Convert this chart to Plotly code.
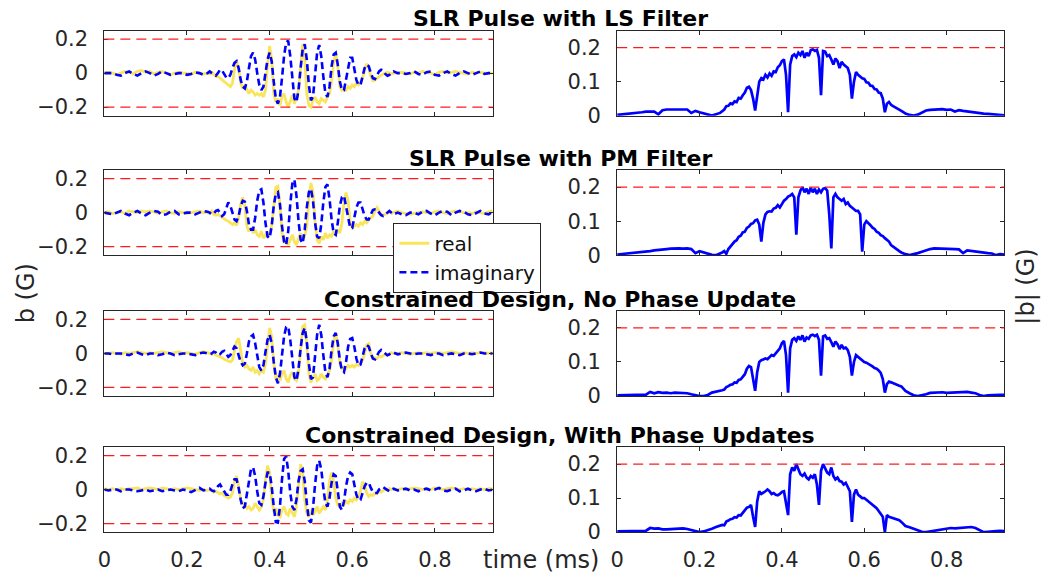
import plotly.graph_objects as go

# ---------------- data ----------------
TIME_MS = [
    0.00, 0.01, 0.02, 0.03, 0.04, 0.05, 0.06, 0.07, 0.08, 0.09,
    0.10, 0.11, 0.12, 0.13, 0.14, 0.15, 0.16, 0.17, 0.18, 0.19,
    0.20, 0.21, 0.22, 0.23, 0.24,
    0.250, 0.255, 0.260, 0.265, 0.270, 0.275, 0.280, 0.285, 0.290, 0.295,
    0.300, 0.305, 0.310, 0.315, 0.320, 0.325, 0.330, 0.335, 0.340, 0.345,
    0.350, 0.355, 0.360, 0.365, 0.370, 0.375, 0.380, 0.385, 0.390, 0.395,
    0.400, 0.405, 0.410, 0.415, 0.420, 0.425, 0.430, 0.435, 0.440, 0.445,
    0.450, 0.455, 0.460, 0.465, 0.470, 0.475, 0.480, 0.485, 0.490, 0.495,
    0.500, 0.505, 0.510, 0.515, 0.520, 0.525, 0.530, 0.535, 0.540, 0.545,
    0.550, 0.555, 0.560, 0.565, 0.570, 0.575, 0.580, 0.585, 0.590, 0.595,
    0.600, 0.605, 0.610, 0.615, 0.620, 0.625, 0.630, 0.635, 0.640, 0.645,
    0.650, 0.655, 0.660, 0.665, 0.670, 0.675, 0.680, 0.685, 0.690, 0.695,
    0.700,
    0.71, 0.72, 0.73, 0.74, 0.75, 0.76, 0.77, 0.78, 0.79, 0.80,
    0.81, 0.82, 0.83, 0.84, 0.85, 0.86, 0.87, 0.88, 0.89, 0.90,
    0.91, 0.92, 0.93, 0.94,
]

# Row 1: SLR Pulse with LS Filter
RE_LS = [
    0.0, 0.005, 0.0, -0.01, 0.0, 0.01, 0.005, -0.005, 0.01, 0.015,
    0.005, 0.01, -0.005, 0.005, 0.01, 0.0, -0.01, 0.0, 0.005, 0.0,
    0.0, -0.005, 0.005, 0.0, -0.005,
    0.0, -0.005, 0.005, -0.01, -0.02, -0.02, -0.03, -0.04, -0.05, -0.06,
    -0.07, -0.08, -0.06, 0.02, 0.07, 0.03, -0.06, -0.09, -0.07, -0.1,
    -0.12, -0.1, -0.11, -0.13, -0.12, -0.13, -0.12, -0.14, -0.1, 0.05,
    0.16, 0.08, -0.12, -0.17, -0.15, -0.19, -0.14, -0.12, -0.17, -0.2,
    -0.16, -0.13, -0.18, -0.15, -0.1, 0.05, 0.17, 0.08, -0.12, -0.19,
    -0.2, -0.16, -0.14, -0.17, -0.18, -0.15, -0.16, -0.17, -0.14, -0.12,
    -0.05, 0.06, 0.12, 0.04, -0.08, -0.1, -0.09, -0.1, -0.08, -0.09,
    -0.07, -0.08, -0.06, -0.07, -0.05, -0.03, 0.02, 0.055, 0.03, -0.02,
    -0.045, -0.04, -0.03, -0.02, -0.01, -0.005, 0.0, 0.005, 0.0, -0.005,
    0.0,
    0.0, 0.005, 0.0, -0.005, 0.005, 0.0, 0.01, 0.005, 0.0, -0.01,
    0.005, 0.01, 0.0, 0.005, 0.01, 0.005, 0.0, -0.005, 0.005, 0.0,
    0.005, 0.0, 0.0, 0.0,
]
IM_LS = [
    0.0, 0.0, 0.0, -0.01, -0.015, 0.0, 0.01, -0.005, -0.015, 0.0,
    0.01, 0.0, -0.015, -0.005, 0.01, 0.0, -0.01, -0.005, 0.0, 0.0,
    -0.01, -0.005, 0.005, 0.0, -0.01,
    0.0, 0.01, 0.0, -0.01, -0.015, 0.0, 0.02, 0.015, -0.01, -0.025,
    -0.03, -0.01, 0.03, 0.06, 0.07, 0.03, -0.04, -0.08, -0.09, -0.05,
    0.03, 0.1, 0.12, 0.08, 0.0, -0.07, -0.1, -0.08, 0.0, 0.08,
    0.12, 0.07, -0.05, -0.15, -0.18, -0.14, -0.03, 0.1, 0.18, 0.19,
    0.1, -0.04, -0.15, -0.17, -0.1, 0.03, 0.14, 0.17, 0.08, -0.07,
    -0.16, -0.14, -0.02, 0.12, 0.165, 0.1, -0.02, -0.12, -0.14, -0.08,
    0.04, 0.11, 0.12, 0.05, -0.05, -0.1, -0.1, -0.04, 0.04, 0.09,
    0.09, 0.03, -0.04, -0.07, -0.07, -0.02, 0.03, 0.05, 0.04, 0.0,
    -0.03, -0.035, -0.015, 0.01, 0.02, 0.015, -0.005, -0.015, -0.01, 0.005,
    0.01,
    0.0, 0.0, -0.005, 0.0, 0.01, -0.005, -0.01, 0.005, 0.01, -0.01,
    -0.015, 0.0, 0.01, -0.005, -0.015, 0.0, 0.01, 0.0, -0.01, 0.0,
    0.01, -0.005, 0.0, 0.0,
]
MAG_LS = [
    0.002, 0.003, 0.004, 0.006, 0.008, 0.009, 0.01, 0.012, 0.013, 0.012,
    0.004, 0.016, 0.018, 0.018, 0.019, 0.02, 0.019, 0.018, 0.008, 0.014,
    0.01, 0.006, 0.002, 0.0, 0.004,
    0.008, 0.013, 0.018, 0.028, 0.029, 0.036, 0.034, 0.042, 0.04, 0.052,
    0.05, 0.06, 0.068, 0.082, 0.085, 0.075, 0.05, 0.015, 0.06, 0.1,
    0.11, 0.106, 0.12, 0.112, 0.124, 0.117, 0.13, 0.128, 0.142, 0.148,
    0.16, 0.165, 0.12, 0.01, 0.15, 0.175, 0.18, 0.172, 0.185, 0.178,
    0.19, 0.17, 0.185, 0.175, 0.192, 0.195, 0.19, 0.193, 0.17, 0.06,
    0.19, 0.188, 0.175, 0.178, 0.165, 0.15, 0.168, 0.16, 0.14, 0.158,
    0.15, 0.145, 0.14, 0.12, 0.05, 0.1, 0.128, 0.12, 0.115, 0.11,
    0.108, 0.098, 0.097, 0.088, 0.087, 0.078, 0.077, 0.068, 0.066, 0.05,
    0.01, 0.035, 0.04, 0.032, 0.028, 0.025, 0.02, 0.018, 0.014, 0.01,
    0.006,
    0.002, 0.0, 0.003, 0.01, 0.015, 0.017, 0.018, 0.02, 0.019, 0.017,
    0.018, 0.012, 0.016, 0.014, 0.012, 0.01, 0.009, 0.007, 0.006, 0.005,
    0.004, 0.003, 0.002, 0.001,
]

# Row 2: SLR Pulse with PM Filter
RE_PM = [
    0.0, 0.005, -0.005, 0.0, 0.005, -0.005, 0.01, 0.005, 0.0, 0.01,
    0.005, 0.01, 0.005, -0.005, 0.005, 0.01, 0.0, -0.005, 0.005, 0.0,
    -0.005, 0.0, 0.005, 0.01, 0.0,
    0.0, -0.005, 0.01, -0.01, -0.015, -0.01, -0.02, -0.03, -0.035, -0.045,
    -0.05, -0.06, -0.07, -0.06, -0.075, -0.03, 0.05, 0.09, 0.04, -0.08,
    -0.11, -0.09, -0.12, -0.1, -0.13, -0.14, -0.11, -0.15, -0.13, -0.14,
    -0.12, -0.08, 0.05, 0.15, 0.156, 0.05, -0.12, -0.18, -0.15, -0.19,
    -0.16, -0.13, -0.17, -0.19, -0.15, -0.12, -0.16, -0.14, -0.08, 0.08,
    0.175, 0.12, -0.05, -0.16, -0.18, -0.14, -0.16, -0.12, -0.15, -0.13,
    -0.14, -0.11, -0.13, -0.1, -0.12, -0.06, 0.06, 0.118, 0.07, -0.06,
    -0.09, -0.08, -0.07, -0.08, -0.06, -0.07, -0.05, -0.06, -0.04, -0.03,
    -0.02, 0.01, 0.03, 0.01, -0.01, -0.015, -0.01, 0.0, 0.005, -0.005,
    0.0,
    0.01, 0.0, -0.005, -0.01, -0.005, 0.0, 0.005, 0.0, -0.005, 0.005,
    0.01, 0.0, -0.005, 0.005, 0.01, 0.005, 0.0, 0.0, -0.005, 0.005,
    0.0, -0.005, 0.005, 0.01,
]
IM_PM = [
    0.0, -0.005, -0.01, 0.0, 0.01, -0.005, -0.015, 0.0, 0.01, -0.005,
    -0.015, 0.0, 0.01, 0.005, -0.015, -0.01, 0.005, 0.01, -0.01, -0.005,
    0.0, 0.0, -0.01, 0.0, 0.01,
    0.005, 0.0, -0.01, -0.005, 0.01, 0.015, 0.0, -0.02, -0.01, 0.03,
    0.06, 0.04, 0.0, -0.04, -0.05, -0.02, 0.04, 0.07, 0.065, 0.01,
    -0.07, -0.1, -0.1, -0.03, 0.07, 0.13, 0.137, 0.06, -0.06, -0.14,
    -0.15, -0.08, 0.04, 0.11, 0.12, 0.05, -0.08, -0.17, -0.19, -0.11,
    0.05, 0.17, 0.194, 0.1, -0.05, -0.16, -0.18, -0.1, 0.03, 0.12,
    0.14, 0.07, -0.06, -0.14, -0.15, -0.07, 0.06, 0.15, 0.166, 0.08,
    -0.04, -0.12, -0.13, -0.06, 0.04, 0.09, 0.1, 0.04, -0.04, -0.09,
    -0.09, -0.03, 0.03, 0.06, 0.06, 0.02, -0.02, -0.04, -0.04, -0.01,
    0.015, 0.02, 0.02, 0.0, -0.015, -0.02, -0.01, 0.005, 0.01, 0.0,
    -0.01,
    0.0, -0.01, -0.015, 0.0, 0.0, -0.01, 0.005, 0.01, -0.005, -0.015,
    0.0, 0.01, 0.005, -0.015, 0.0, 0.01, 0.005, -0.01, -0.015, 0.0,
    0.01, -0.005, -0.01, 0.005,
]
MAG_PM = [
    0.002, 0.003, 0.004, 0.005, 0.006, 0.008, 0.01, 0.011, 0.012, 0.014,
    0.016, 0.017, 0.018, 0.019, 0.02, 0.02, 0.019, 0.02, 0.018, 0.006,
    0.012, 0.008, 0.004, 0.001, 0.0,
    0.004, 0.008, 0.012, 0.004, 0.018, 0.026, 0.031, 0.04, 0.044, 0.054,
    0.057, 0.067, 0.069, 0.08, 0.084, 0.092, 0.094, 0.102, 0.104, 0.09,
    0.04, 0.095, 0.12, 0.127, 0.129, 0.128, 0.137, 0.139, 0.147, 0.14,
    0.15, 0.16, 0.165, 0.172, 0.175, 0.18, 0.17, 0.06, 0.17, 0.19,
    0.2, 0.185, 0.195, 0.18, 0.198, 0.185, 0.195, 0.18, 0.193, 0.185,
    0.195, 0.197, 0.19, 0.12, 0.02, 0.17, 0.18, 0.17, 0.165, 0.16,
    0.165, 0.15, 0.155, 0.145, 0.14, 0.135, 0.13, 0.13, 0.12, 0.01,
    0.09, 0.1, 0.095, 0.088, 0.081, 0.077, 0.069, 0.066, 0.059, 0.056,
    0.05, 0.045, 0.04, 0.03, 0.025, 0.02, 0.015, 0.012, 0.008, 0.005,
    0.003,
    0.0, 0.002, 0.006, 0.01, 0.015, 0.018, 0.02, 0.02, 0.02, 0.019,
    0.02, 0.018, 0.017, 0.006, 0.014, 0.012, 0.01, 0.009, 0.008, 0.006,
    0.005, 0.0, 0.003, 0.002,
]

# Row 3: Constrained Design, No Phase Update
RE_NP = [
    0.0, 0.0, 0.005, 0.0, -0.005, 0.005, 0.0, 0.005, 0.01, 0.005,
    0.0, 0.005, 0.0, 0.005, 0.01, 0.005, 0.0, 0.005, 0.01, 0.0,
    0.005, 0.0, -0.005, 0.005, 0.01,
    0.005, 0.0, -0.005, 0.005, -0.01, -0.015, -0.02, -0.025, -0.035, -0.04,
    -0.045, -0.05, -0.04, 0.01, 0.07, 0.09, 0.02, -0.06, -0.08, -0.07,
    -0.09, -0.1, -0.08, -0.11, -0.1, -0.12, -0.1, -0.11, -0.06, 0.06,
    0.15, 0.1, -0.06, -0.15, -0.13, -0.16, -0.12, -0.1, -0.15, -0.17,
    -0.13, -0.11, -0.15, -0.16, -0.12, 0.02, 0.16, 0.168, 0.05, -0.12,
    -0.17, -0.14, -0.12, -0.16, -0.15, -0.12, -0.14, -0.15, -0.12, -0.1,
    -0.04, 0.07, 0.12, 0.05, -0.06, -0.09, -0.08, -0.09, -0.07, -0.08,
    -0.07, -0.08, -0.065, -0.07, -0.06, -0.04, 0.0, 0.05, 0.057, 0.0,
    -0.03, -0.025, -0.03, -0.015, -0.02, -0.01, -0.005, -0.01, 0.0, 0.005,
    0.0,
    0.0, 0.005, 0.0, -0.005, 0.0, 0.005, 0.0, 0.005, 0.0, 0.005,
    0.005, 0.0, 0.005, 0.01, 0.005, 0.0, 0.005, 0.0, 0.005, 0.0,
    0.005, 0.005, 0.0, 0.005,
]
IM_NP = [
    0.0, 0.0, -0.005, 0.0, 0.0, -0.005, -0.01, 0.0, 0.005, -0.005,
    -0.01, 0.0, 0.0, -0.01, -0.005, 0.005, 0.0, -0.01, -0.005, 0.0,
    0.0, -0.005, -0.01, 0.0, 0.005,
    0.0, -0.005, 0.0, 0.01, 0.005, -0.01, -0.005, 0.01, 0.015, 0.0,
    -0.02, -0.01, 0.02, 0.04, 0.03, -0.01, -0.05, -0.07, -0.06, 0.0,
    0.07, 0.1, 0.11, 0.06, -0.02, -0.08, -0.1, -0.07, 0.01, 0.08,
    0.11, 0.06, -0.05, -0.14, -0.175, -0.12, -0.01, 0.1, 0.155, 0.158,
    0.08, -0.05, -0.14, -0.16, -0.09, 0.03, 0.12, 0.15, 0.07, -0.06,
    -0.15, -0.14, -0.03, 0.11, 0.168, 0.11, -0.01, -0.11, -0.14, -0.09,
    0.02, 0.1, 0.12, 0.06, -0.04, -0.1, -0.11, -0.05, 0.04, 0.085,
    0.09, 0.04, -0.03, -0.07, -0.065, -0.02, 0.03, 0.05, 0.04, 0.0,
    -0.03, -0.035, -0.015, 0.01, 0.02, 0.01, -0.005, -0.01, -0.005, 0.005,
    0.005,
    -0.005, 0.0, 0.005, 0.0, -0.005, 0.0, 0.0, -0.005, -0.01, 0.0,
    0.0, -0.01, -0.005, 0.0, -0.005, -0.01, 0.0, 0.0, -0.005, 0.0,
    0.005, 0.0, 0.0, 0.0,
]
MAG_NP = [
    0.002, 0.002, 0.002, 0.002, 0.002, 0.003, 0.003, 0.004, 0.012, 0.008,
    0.011, 0.009, 0.01, 0.008, 0.01, 0.009, 0.01, 0.008, 0.005, 0.002,
    0.0, 0.0, 0.003, 0.01, 0.012,
    0.014, 0.017, 0.019, 0.026, 0.029, 0.033, 0.034, 0.04, 0.039, 0.047,
    0.049, 0.057, 0.064, 0.08, 0.088, 0.085, 0.05, 0.015, 0.07, 0.1,
    0.105, 0.108, 0.11, 0.108, 0.115, 0.12, 0.118, 0.125, 0.13, 0.14,
    0.155, 0.162, 0.12, 0.01, 0.14, 0.165, 0.17, 0.162, 0.175, 0.165,
    0.178, 0.16, 0.172, 0.168, 0.178, 0.18, 0.176, 0.18, 0.165, 0.06,
    0.175, 0.178, 0.168, 0.17, 0.158, 0.145, 0.16, 0.152, 0.138, 0.15,
    0.14, 0.142, 0.135, 0.115, 0.06, 0.1, 0.12, 0.115, 0.11, 0.105,
    0.1, 0.098, 0.095, 0.09, 0.087, 0.082, 0.08, 0.075, 0.068, 0.05,
    0.01, 0.035, 0.042, 0.04, 0.037, 0.035, 0.033, 0.03, 0.028, 0.022,
    0.015,
    0.008, 0.002, 0.0, 0.002, 0.005, 0.009, 0.01, 0.012, 0.011, 0.009,
    0.01, 0.011, 0.01, 0.011, 0.012, 0.01, 0.008, 0.003, 0.0, 0.002,
    0.003, 0.004, 0.003, 0.003,
]

# Row 4: Constrained Design, With Phase Updates
RE_WP = [
    0.005, 0.0, 0.005, 0.0, 0.005, 0.0, 0.005, 0.005, 0.01, 0.0,
    0.005, 0.01, 0.005, 0.0, 0.01, 0.005, 0.0, 0.005, 0.0, 0.005,
    0.01, 0.005, 0.0, -0.005, 0.0,
    -0.005, 0.0, -0.01, -0.015, -0.01, -0.02, -0.025, -0.02, -0.035, -0.04,
    -0.05, -0.045, -0.02, 0.05, 0.08, 0.02, -0.06, -0.08, -0.09, -0.11,
    -0.1, -0.12, -0.11, -0.08, -0.1, -0.12, -0.1, -0.06, 0.06, 0.14,
    0.1, -0.05, -0.13, -0.11, -0.15, -0.16, -0.12, -0.1, -0.14, -0.15,
    -0.11, -0.14, -0.16, -0.1, 0.05, 0.15, 0.1, -0.06, -0.14, -0.16,
    -0.12, -0.15, -0.13, -0.1, -0.14, -0.12, -0.1, -0.12, -0.06, 0.05,
    0.1, 0.05, -0.05, -0.09, -0.1, -0.08, -0.09, -0.07, -0.08, -0.06,
    -0.07, -0.05, -0.06, -0.04, -0.01, 0.045, 0.03, -0.02, -0.04, -0.03,
    -0.035, -0.02, -0.025, -0.01, -0.015, -0.005, 0.0, -0.005, 0.005, 0.0,
    0.005,
    0.0, 0.005, 0.0, 0.005, 0.01, 0.005, 0.0, 0.005, 0.0, 0.01,
    0.005, 0.0, 0.005, 0.01, 0.005, 0.0, 0.005, 0.0, 0.005, 0.0,
    0.005, 0.0, 0.005, 0.005,
]
IM_WP = [
    0.0, -0.005, 0.0, 0.0, -0.01, 0.0, 0.0, -0.005, -0.01, -0.005,
    0.0, -0.01, -0.005, 0.0, -0.01, -0.005, 0.0, -0.005, -0.01, 0.0,
    -0.005, -0.015, 0.0, 0.01, -0.005,
    0.0, 0.005, -0.005, -0.01, 0.0, 0.02, 0.03, 0.01, -0.015, -0.03,
    -0.03, -0.01, 0.03, 0.06, 0.06, 0.01, -0.06, -0.11, -0.1, -0.03,
    0.06, 0.12, 0.13, 0.08, -0.01, -0.08, -0.09, -0.04, 0.04, 0.1,
    0.1, 0.02, -0.1, -0.19, -0.194, -0.1, 0.06, 0.18, 0.196, 0.11,
    -0.02, -0.1, -0.12, -0.06, 0.05, 0.11, 0.12, 0.05, -0.08, -0.18,
    -0.194, -0.11, 0.03, 0.14, 0.17, 0.12, 0.01, -0.08, -0.1, -0.05,
    0.04, 0.09, 0.08, 0.0, -0.1, -0.12, -0.07, 0.02, 0.08, 0.1,
    0.09, 0.03, -0.03, -0.06, -0.06, -0.02, 0.02, 0.04, 0.04, 0.01,
    -0.015, -0.02, -0.02, 0.0, 0.01, 0.015, 0.005, -0.005, -0.01, 0.0,
    0.005,
    -0.005, 0.0, 0.005, -0.005, 0.0, -0.01, 0.0, 0.005, -0.005, 0.0,
    0.01, -0.005, -0.01, 0.0, 0.005, -0.01, -0.005, 0.005, -0.005, -0.01,
    0.0, 0.005, -0.005, 0.0,
]
MAG_WP = [
    0.002, 0.002, 0.002, 0.002, 0.002, 0.003, 0.003, 0.004, 0.012, 0.01,
    0.011, 0.008, 0.008, 0.009, 0.008, 0.01, 0.011, 0.009, 0.006, 0.004,
    0.0, 0.002, 0.005, 0.01, 0.015,
    0.018, 0.021, 0.02, 0.031, 0.034, 0.038, 0.039, 0.044, 0.043, 0.05,
    0.049, 0.057, 0.064, 0.072, 0.074, 0.08, 0.045, 0.015, 0.09, 0.12,
    0.112, 0.115, 0.12, 0.125, 0.12, 0.112, 0.115, 0.11, 0.108, 0.112,
    0.118, 0.12, 0.09, 0.05, 0.17, 0.19, 0.18, 0.2, 0.185, 0.17,
    0.165, 0.172, 0.16, 0.155, 0.165, 0.16, 0.17, 0.14, 0.08, 0.18,
    0.2, 0.185, 0.175, 0.17, 0.19, 0.165, 0.155, 0.16, 0.15, 0.148,
    0.14, 0.145, 0.13, 0.12, 0.03, 0.11, 0.125, 0.11, 0.105, 0.1,
    0.1, 0.095, 0.088, 0.085, 0.08, 0.075, 0.07, 0.062, 0.055, 0.045,
    0.0, 0.05, 0.045, 0.043, 0.042, 0.04, 0.038, 0.035, 0.03, 0.025,
    0.018,
    0.014, 0.01, 0.005, 0.001, 0.0, 0.002, 0.004, 0.006, 0.009, 0.011,
    0.012, 0.011, 0.012, 0.013, 0.012, 0.015, 0.012, 0.006, 0.0, 0.001,
    0.003, 0.003, 0.004, 0.003,
]

ROW_TITLES = [
    "SLR Pulse with LS Filter",
    "SLR Pulse with PM Filter",
    "Constrained Design, No Phase Update",
    "Constrained Design, With Phase Updates",
]
REAL_PARTS = [RE_LS, RE_PM, RE_NP, RE_WP]
IMAG_PARTS = [IM_LS, IM_PM, IM_NP, IM_WP]
MAGNITUDES = [MAG_LS, MAG_PM, MAG_NP, MAG_WP]
LIMIT = 0.2

X_TICKS = [0, 0.2, 0.4, 0.6, 0.8]
X_TICK_TEXT = ["0", "0.2", "0.4", "0.6", "0.8"]
B_TICKS = [-0.2, 0, 0.2]
B_TICK_TEXT = ["\u22120.2", "0", "0.2"]
MAG_TICKS = [0, 0.1, 0.2]
MAG_TICK_TEXT = ["0", "0.1", "0.2"]

for arr in REAL_PARTS + IMAG_PARTS + MAGNITUDES:
    assert len(arr) == len(TIME_MS), len(arr)

# ---------------- layout constants ----------------
W, H = 1045, 586
FONT = "DejaVu Sans"
AX_COLOR = "#262626"
YELLOW = "#F9E55C"
BLUE = "#0000FF"
RED = "#FF1A1A"

COL_PX = [(98.0, 489.0), (614.3, 1004.0)]
ROW_TOP_PX = [28.3, 171.5, 316.0, 455.7]
ROW_H_PX = 87.3
X_MAX = 0.94


def fx(p):
    return p / W


def fy(p):
    return 1 - p / H


fig = go.Figure()
layout = dict(
    width=W, height=H, autosize=False,
    margin=dict(l=0, r=0, t=0, b=0),
    paper_bgcolor="white", plot_bgcolor="white",
    font=dict(family=FONT, color=AX_COLOR, size=21),
    showlegend=True,
    legend=dict(
        x=fx(389), y=fy(225.5), xanchor="left", yanchor="top",
        bgcolor="white", bordercolor=AX_COLOR, borderwidth=1,
        font=dict(family=FONT, size=20, color="#111111"),
        tracegroupgap=0, itemwidth=30,
    ),
)
shapes = []
annotations = []

for r in range(4):
    top = ROW_TOP_PX[r]
    ydom = [fy(top + ROW_H_PX), fy(top)]
    for c in range(2):
        n = r * 2 + c + 1
        xs = "" if n == 1 else str(n)
        x0, x1 = COL_PX[c]
        axis_common = dict(
            showline=True, linecolor=AX_COLOR, linewidth=1, mirror="ticks",
            ticks="inside", ticklen=4, tickwidth=1, tickcolor=AX_COLOR,
            showgrid=False, zeroline=False,
            tickfont=dict(family=FONT, size=21, color=AX_COLOR),
        )
        layout["xaxis" + xs] = dict(
            axis_common, domain=[fx(x0), fx(x1)], range=[0, X_MAX],
            anchor="y" + xs, tickvals=X_TICKS, ticktext=X_TICK_TEXT,
            showticklabels=(r == 3), ticklabelstandoff=9,
        )
        if c == 0:
            layout["yaxis" + xs] = dict(
                axis_common, domain=ydom, range=[-0.25, 0.25],
                anchor="x" + xs, tickvals=B_TICKS, ticktext=B_TICK_TEXT,
                ticklabelstandoff=11,
            )
            fig.add_trace(go.Scatter(
                x=TIME_MS, y=REAL_PARTS[r], mode="lines", name="real",
                line=dict(color=YELLOW, width=2.8),
                xaxis="x" + xs, yaxis="y" + xs, showlegend=(r == 0),
            ))
            fig.add_trace(go.Scatter(
                x=TIME_MS, y=IMAG_PARTS[r], mode="lines", name="imaginary",
                line=dict(color=BLUE, width=2.6, dash="7px,4px"),
                xaxis="x" + xs, yaxis="y" + xs, showlegend=(r == 0),
            ))
            for lvl in (LIMIT, -LIMIT):
                shapes.append(dict(
                    type="line", xref="x" + xs + " domain", x0=0, x1=1,
                    yref="y" + xs, y0=lvl, y1=lvl,
                    line=dict(color=RED, width=1.2, dash="10px,6px"),
                ))
        else:
            layout["yaxis" + xs] = dict(
                axis_common, domain=ydom, range=[0, 0.25],
                anchor="x" + xs, tickvals=MAG_TICKS, ticktext=MAG_TICK_TEXT,
                ticklabelstandoff=11,
            )
            fig.add_trace(go.Scatter(
                x=TIME_MS, y=MAGNITUDES[r], mode="lines", name="|b|",
                line=dict(color=BLUE, width=2.7),
                xaxis="x" + xs, yaxis="y" + xs, showlegend=False,
            ))
            shapes.append(dict(
                type="line", xref="x" + xs + " domain", x0=0, x1=1,
                yref="y" + xs, y0=LIMIT, y1=LIMIT,
                line=dict(color=RED, width=1.2, dash="10px,6px"),
            ))
    annotations.append(dict(
        text="<b>" + ROW_TITLES[r] + "</b>", xref="paper", yref="paper",
        x=fx(557), y=fy(top + 3), xanchor="center", yanchor="bottom",
        showarrow=False, font=dict(family=FONT, size=22, color="black"),
    ))

annotations.append(dict(
    text="b (G)", xref="paper", yref="paper", x=fx(19), y=fy(298),
    xanchor="center", yanchor="middle", textangle=-90, showarrow=False,
    font=dict(family=FONT, size=24, color=AX_COLOR),
))
annotations.append(dict(
    text="|b| (G)", xref="paper", yref="paper", x=fx(1025), y=fy(291),
    xanchor="center", yanchor="middle", textangle=-90, showarrow=False,
    font=dict(family=FONT, size=24, color=AX_COLOR),
))
annotations.append(dict(
    text="time (ms)", xref="paper", yref="paper", x=fx(538), y=fy(572),
    xanchor="center", yanchor="middle", showarrow=False,
    font=dict(family=FONT, size=24, color=AX_COLOR),
))

layout["shapes"] = shapes
layout["annotations"] = annotations
fig.update_layout(**layout)

fig.write_html("out.html", config={"displayModeBar": False})
